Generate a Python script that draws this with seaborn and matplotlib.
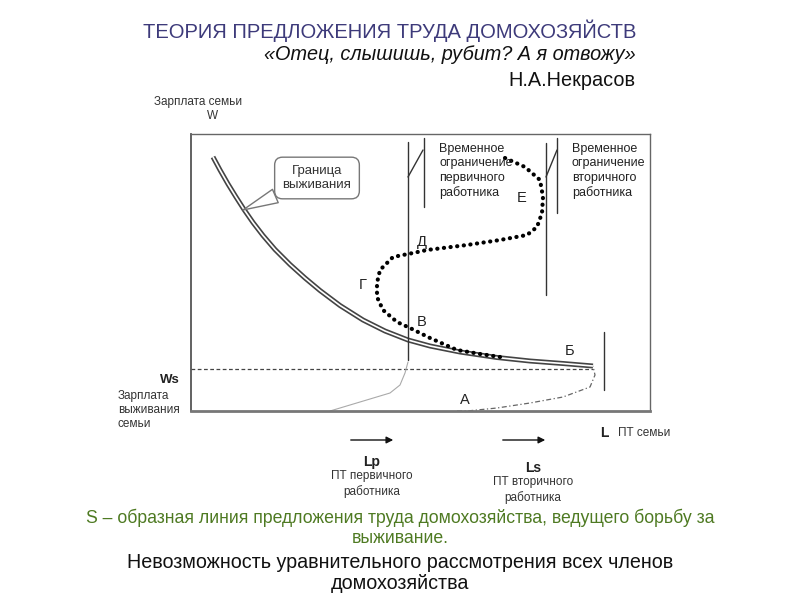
import matplotlib
matplotlib.use("Agg")
import matplotlib.pyplot as plt
import pandas as pd
import seaborn as sns

# values (x = labour of family, y = family wage)
surv_x = [22, 29, 37, 45, 53, 62, 72, 84, 99, 114, 129, 149, 172, 194, 217, 239, 269, 306, 339, 372, 402]
surv_y = [254, 241, 227, 214, 201.5, 188.5, 175.5, 161.5, 146.5, 133, 120.5, 105.5, 91, 80, 71, 65, 59, 53.5, 50, 47.5, 45]

s_x = [309, 289, 266, 239, 219, 206, 192, 186, 186, 189, 202, 222, 236, 276, 309, 336, 346, 351, 352, 349, 334, 314]
s_y = [54, 57, 61, 73, 83, 89, 101, 114, 128, 141, 154, 158, 161, 166, 171, 176, 184, 198, 214, 231, 244, 253]

prim_x = [139, 169, 199, 209, 214, 217]
prim_y = [0, 9, 18, 26, 38, 49]

sec_x = [266, 276, 306, 339, 372, 399, 404, 402]
sec_y = [0, 0, 3, 8, 14, 24, 36, 45]

ws_level = 42
letters = ["А", "Б", "В", "Г", "Д", "Е"]
letter_x = [274, 379, 231, 172, 231, 331]
letter_y = [11, 60, 89, 126, 169, 213]

sns.set_theme(style="white")
plt.rcParams['font.family'] = ['Liberation Sans', 'DejaVu Sans']

fig = plt.figure(figsize=(8, 6), dpi=100)
ax = fig.add_axes([191 / 800, 1 - 411 / 600, 459 / 800, 277 / 600])
ax.set_xlim(0, 459)
ax.set_ylim(0, 277)
ax.set_xticks([])
ax.set_yticks([])
for side, lw, col in [("left", 1.3, "#555555"), ("top", 1.0, "#666666"),
                      ("right", 1.0, "#666666"), ("bottom", 2.0, "#777777")]:
    ax.spines[side].set_linewidth(lw)
    ax.spines[side].set_color(col)


def px(x, y):
    return x / 800, 1 - y / 600


surv = pd.DataFrame({"x": surv_x, "y": surv_y})
scurve = pd.DataFrame({"x": s_x, "y": s_y})
prim = pd.DataFrame({"x": prim_x, "y": prim_y})
sec = pd.DataFrame({"x": sec_x, "y": sec_y})

# dashed survival wage
ax.plot([0, 402], [ws_level, ws_level], color="#444444", lw=0.9, dashes=(3, 2))

# secondary & primary worker supply
sns.lineplot(data=prim, x="x", y="y", sort=False, estimator=None, ax=ax,
             color="#aaaaaa", lw=0.8)
sns.lineplot(data=sec, x="x", y="y", sort=False, estimator=None, ax=ax,
             color="#666666", lw=0.9, dashes=False, linestyle=(0, (4, 2, 1, 2)))

# survival boundary (double line)
sns.lineplot(data=surv, x="x", y="y", sort=False, estimator=None, ax=ax,
             color="#444444", lw=3.6, solid_capstyle="butt", solid_joinstyle="round")
sns.lineplot(data=surv, x="x", y="y", sort=False, estimator=None, ax=ax,
             color="white", lw=1.2, solid_capstyle="butt", solid_joinstyle="round")

# S-shaped supply, thick dots
sns.lineplot(data=scurve, x="x", y="y", sort=False, estimator=None, ax=ax,
             color="black", lw=3.0, linestyle=(0, (0.05, 1.55)),
             dash_capstyle="round")

# time constraint lines
ax.plot([217, 217], [51, 269], color="#333333", lw=1.0)
ax.plot([233, 233], [204, 273], color="#333333", lw=1.0)
ax.plot([217, 232], [234, 261], color="#333333", lw=1.0)
ax.plot([355, 355], [116, 268], color="#333333", lw=1.0)
ax.plot([366, 366], [198, 273], color="#333333", lw=1.0)
ax.plot([355, 366], [234, 261], color="#333333", lw=1.0)
ax.plot([413, 413], [21, 79], color="#333333", lw=1.0)

for t, x, y in zip(letters, letter_x, letter_y):
    ax.text(x, y, t, fontsize=10.5, ha="center", va="center", color="#222222")

ax.text(248, 268, "Временное\nограничение\nпервичного\nработника", fontsize=9,
        ha="left", va="top", color="#222222", linespacing=1.25)
ax.text(381, 268, "Временное\nограничение\nвторичного\nработника", fontsize=9,
        ha="left", va="top", color="#222222", linespacing=1.25)

ax.annotate("Граница\nвыживания", xy=(52, 201), xytext=(126, 233), fontsize=9.5,
            ha="center", va="center", color="#333333",
            bbox=dict(boxstyle="round,pad=0.6,rounding_size=0.6", fc="white", ec="#777777", lw=1),
            arrowprops=dict(arrowstyle="wedge,tail_width=1.1", fc="white", ec="#777777", lw=1,
                            shrinkA=0, shrinkB=0))

# title block
fig.text(*px(636, 31), "ТЕОРИЯ ПРЕДЛОЖЕНИЯ ТРУДА ДОМОХОЗЯЙСТВ", fontsize=14.5,
         ha="right", va="center", color="#3d3a7a")
fig.text(*px(636, 55), "«Отец, слышишь, рубит? А я отвожу»", fontsize=14.3,
         ha="right", va="center", style="italic", color="#111111")
fig.text(*px(636, 80), "Н.А.Некрасов", fontsize=14.3, ha="right", va="center", color="#111111")

# axis captions
fig.text(*px(198, 102), "Зарплата семьи", fontsize=8.5, ha="center", va="center", color="#333333")
fig.text(*px(213, 116), "W", fontsize=8.5, ha="center", va="center", color="#333333")
fig.text(*px(180, 380), "Ws", fontsize=9.5, ha="right", va="center", weight="bold", color="#222222")
fig.text(*px(118, 410), "Зарплата\nвыживания\nсемьи", fontsize=8.5, ha="left", va="center",
         color="#333333", linespacing=1.2)
fig.text(*px(604, 433), "L", fontsize=10, ha="center", va="center", weight="bold", color="#222222")
fig.text(*px(618, 433), "ПТ семьи", fontsize=8.5, ha="left", va="center", color="#333333")

for x0, x1 in [(348, 396), (500, 548)]:
    fig.add_artist(matplotlib.patches.FancyArrowPatch(
        px(x0, 440), px(x1, 440), transform=fig.transFigure,
        arrowstyle="-|>,head_length=4,head_width=2", color="#111111", lw=1))

fig.text(*px(372, 462), "Lp", fontsize=10, ha="center", va="center", weight="bold", color="#222222")
fig.text(*px(372, 484), "ПТ первичного\nработника", fontsize=8.5, ha="center", va="center",
         color="#333333", linespacing=1.25)
fig.text(*px(533, 468), "Ls", fontsize=10, ha="center", va="center", weight="bold", color="#222222")
fig.text(*px(533, 490), "ПТ вторичного\nработника", fontsize=8.5, ha="center", va="center",
         color="#333333", linespacing=1.25)

# bottom notes
fig.text(*px(400, 528), "S – образная линия предложения труда домохозяйства, ведущего борьбу за\nвыживание.",
         fontsize=12.7, ha="center", va="center", color="#4e7a22", linespacing=1.25)
fig.text(*px(400, 573), "Невозможность уравнительного рассмотрения всех членов\nдомохозяйства",
         fontsize=14.2, ha="center", va="center", color="#111111", linespacing=1.1)

fig.savefig("out.png", dpi=100)
